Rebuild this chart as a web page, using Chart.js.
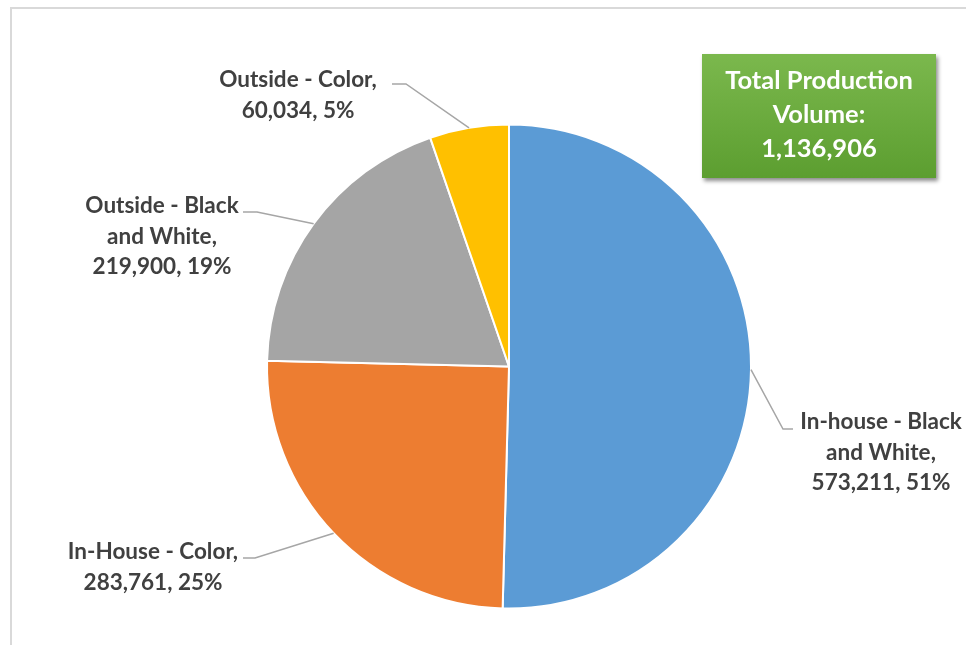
<!DOCTYPE html>
<html>
<head>
<meta charset="utf-8">
<script src="https://cdn.jsdelivr.net/npm/chart.js@4"></script>
<style>
  html, body { margin: 0; padding: 0; background: #fff; overflow: hidden; }
  .wrap { position: relative; width: 966px; height: 645px; }
  .frame {
    position: absolute; left: 10px; top: 7px; width: 1000px; height: 700px;
    border: 2px solid #d9d9d9; box-sizing: border-box;
  }
  canvas { position: absolute; left: 0; top: 0; }
  .total-box {
    position: absolute; left: 702px; top: 54px; width: 234px; height: 124px;
    background: linear-gradient(#7bb84d, #5c9e30);
    box-shadow: 2px 3px 4px rgba(0, 0, 0, 0.45);
    color: #fff; font-family: Lato, "Open Sans", sans-serif; font-weight: bold;
    font-size: 25.5px; line-height: 34px; text-align: center;
    display: flex; align-items: center; justify-content: center;
  }
  .total-box div { margin-top: -6px; }
</style>
</head>
<body>
<div class="wrap">
  <div class="frame"></div>
  <canvas id="chart" width="966" height="645"></canvas>
  <div class="total-box" id="total"></div>
</div>
<script>
const categories = [
  "In-house - Black and White",
  "In-House - Color",
  "Outside - Black and White",
  "Outside - Color",
];
const volumes = [573211, 283761, 219900, 60034];
// percentages as printed on the chart
const percents = [51, 25, 19, 5];
const sliceColors = ["#5b9bd5", "#ed7d31", "#a5a5a5", "#ffc000"];

// how each data label is split into lines
const labelLines = [
  ["In-house - Black", "and White,"],
  ["In-House - Color,"],
  ["Outside - Black", "and White,"],
  ["Outside - Color,"],
];

// label placement: text centre, first line middle, leader end + elbow
const labelPos = [
  { x: 881, y: 422, end: [793, 429], elbow: [783, 429] },
  { x: 153, y: 552, end: [243, 558], elbow: [255, 558] },
  { x: 162, y: 206, end: [243, 212], elbow: [257, 212] },
  { x: 298, y: 80, end: [392, 84], elbow: [406, 84] },
];

const total = volumes.reduce((a, b) => a + b, 0);
const fmt = (n) => n.toLocaleString("en-US");

document.getElementById("total").innerHTML =
  "<div>Total Production<br>Volume:<br>" + fmt(total) + "</div>";

const pieLabels = {
  id: "pieLabels",
  afterDatasetsDraw(chart) {
    const ctx = chart.ctx;
    const meta = chart.getDatasetMeta(0);
    ctx.save();
    meta.data.forEach((arc, i) => {
      const { x, y, startAngle, endAngle, outerRadius } = arc.getProps(
        ["x", "y", "startAngle", "endAngle", "outerRadius"], true
      );
      const mid = (startAngle + endAngle) / 2;
      const ax = x + Math.cos(mid) * outerRadius;
      const ay = y + Math.sin(mid) * outerRadius;
      const p = labelPos[i];

      // leader line
      ctx.strokeStyle = "#a6a6a6";
      ctx.lineWidth = 1.5;
      ctx.beginPath();
      ctx.moveTo(ax, ay);
      ctx.lineTo(p.elbow[0], p.elbow[1]);
      ctx.lineTo(p.end[0], p.end[1]);
      ctx.stroke();

      // text
      const lines = labelLines[i].concat([fmt(volumes[i]) + ", " + percents[i] + "%"]);
      ctx.fillStyle = "#404040";
      ctx.font = "bold 22.5px Lato, 'Open Sans', sans-serif";
      ctx.textAlign = "center";
      ctx.textBaseline = "middle";
      lines.forEach((t, k) => ctx.fillText(t, p.x, p.y + k * 30.5));
    });
    ctx.restore();
  },
};

new Chart(document.getElementById("chart"), {
  type: "pie",
  data: {
    labels: categories,
    datasets: [
      {
        data: volumes,
        backgroundColor: sliceColors,
        borderColor: "#ffffff",
        borderWidth: 2,
      },
    ],
  },
  options: {
    responsive: false,
    animation: false,
    layout: { padding: { left: 266, right: 214, top: 123, bottom: 35 } },
    plugins: {
      legend: { display: false },
      tooltip: { enabled: false },
    },
  },
  plugins: [pieLabels],
});
</script>
</body>
</html>
